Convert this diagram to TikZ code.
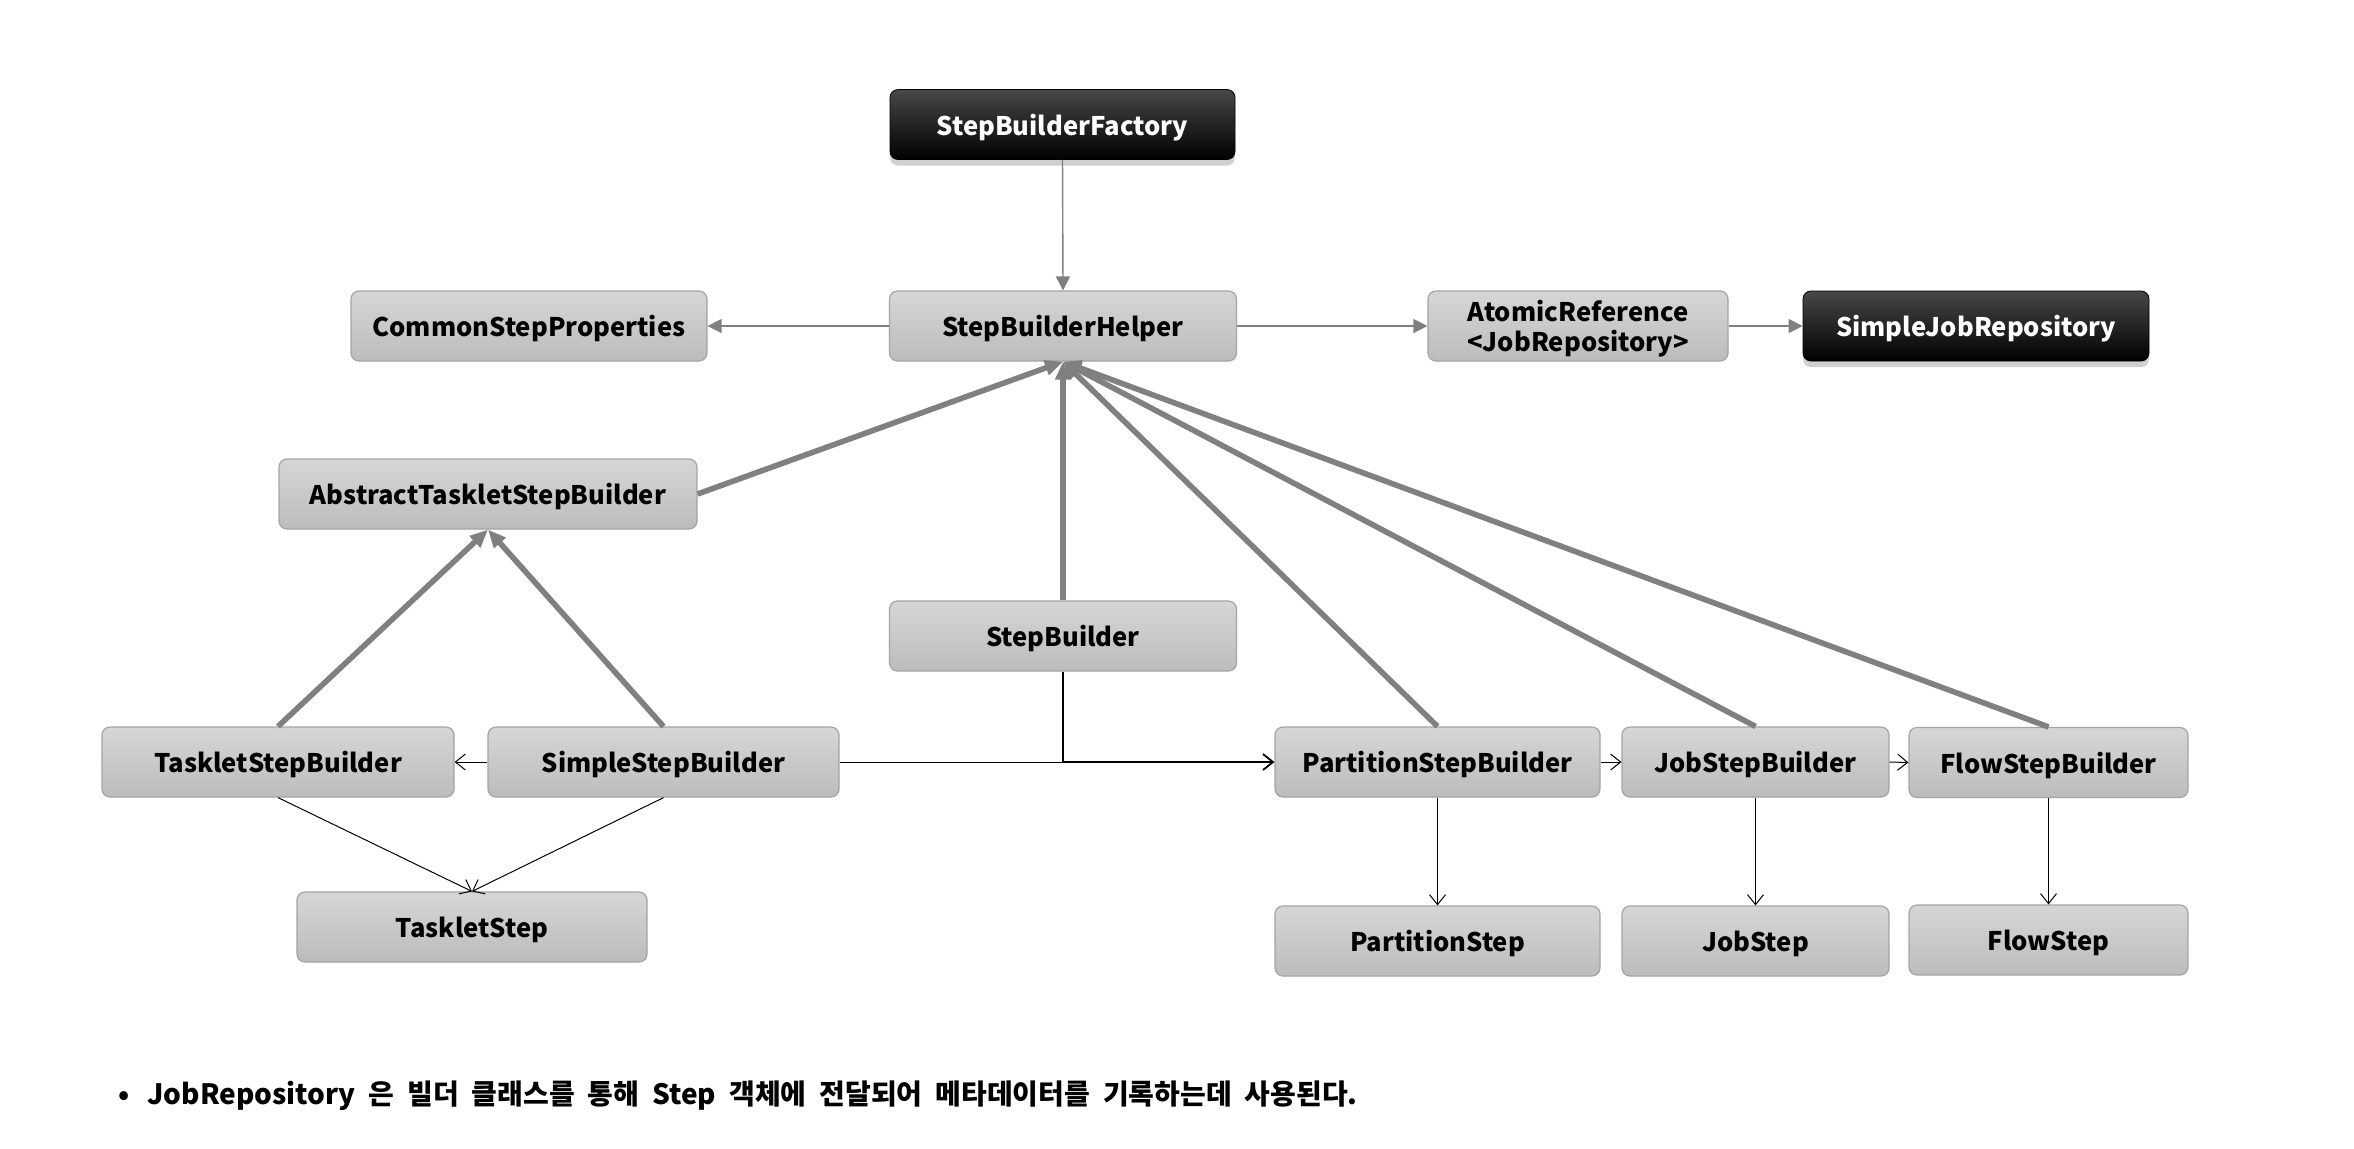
\documentclass[tikz,border=0pt]{standalone}
\usepackage{fontspec}
\setmainfont{Noto Sans CJK KR}
\usetikzlibrary{arrows.meta,shadows}
\definecolor{boxtop}{HTML}{D6D6D6}
\definecolor{boxbot}{HTML}{BCBCBC}
\definecolor{boxline}{HTML}{A4A4A4}
\definecolor{arrgrey}{HTML}{808080}
\tikzset{
  lbl/.style={font=\bfseries\fontsize{12.8pt}{16pt}\selectfont},
  gbase/.style={lbl, draw=boxline, line width=0.6pt, rounded corners=4pt,
    top color=boxtop, bottom color=boxbot, minimum height=35pt, inner sep=0pt, text=black},
  gbox/.style={gbase, text height=12pt, text depth=1.5pt},
  bbox/.style={lbl, draw=black, rounded corners=4pt, top color=black!72, bottom color=black,
    minimum height=35pt, inner sep=0pt, text=white, text height=12pt, text depth=1.5pt,
    drop shadow={shadow xshift=0pt, shadow yshift=-3pt, opacity=0.3, fill=black!60}},
  greyarr/.style={draw=arrgrey, line width=0.7pt, -{Triangle[length=7pt,width=7pt]}, arrgrey},
  thickarr/.style={draw=arrgrey, line width=2.8pt, -{Triangle[length=9pt,width=7.5pt]}, arrgrey},
  openarr/.style={draw=black, line width=0.5pt, -{Straight Barb[length=5pt,width=8pt]}},
}
\begin{document}
\begin{tikzpicture}[x=0.5pt,y=-0.5pt]
\path[use as bounding box, fill=white] (0,0) rectangle (2354,1148);
% top row
\node[bbox, minimum width=172.5pt] (sbf) at (1062.5,124.5) {StepBuilderFactory};
\node[gbox, minimum width=173.5pt] (sbh) at (1063,326) {StepBuilderHelper};
\node[gbox, minimum width=178pt] (csp) at (529,326) {CommonStepProperties};
\node[gbase, minimum width=150pt] (ar) at (1578,326) {};
\node[lbl, align=center, inner sep=0pt] (artext) at ([yshift=-1.5pt]ar.center) {AtomicReference\\[-1pt]<JobRepository>};
\node[bbox, minimum width=173pt] (sjr) at (1976,326) {SimpleJobRepository};
% middle
\node[gbox, minimum width=209pt] (atsb) at (488,494) {AbstractTaskletStepBuilder};
\node[gbox, minimum width=173.5pt] (sb) at (1063,636) {StepBuilder};
% builders row
\node[gbox, minimum width=176pt] (tsb) at (278,762) {TaskletStepBuilder};
\node[gbox, minimum width=175.5pt] (ssb) at (663.5,762) {SimpleStepBuilder};
\node[gbox, minimum width=162.5pt] (psb) at (1437.5,762) {PartitionStepBuilder};
\node[gbox, minimum width=133.5pt] (jsb) at (1755.5,762) {JobStepBuilder};
\node[gbox, minimum width=139.5pt] (fsb) at (2048.5,762.5) {FlowStepBuilder};
% steps row
\node[gbox, minimum width=175pt] (ts) at (472,927) {TaskletStep};
\node[gbox, minimum width=162.5pt] (ps) at (1437.5,941) {PartitionStep};
\node[gbox, minimum width=133.5pt] (js) at (1755.5,941) {JobStep};
\node[gbox, minimum width=139.5pt] (fs) at (2048.5,940) {FlowStep};
% grey thin arrows
\draw[greyarr] (sbf.south) -- (sbh.north);
\draw[greyarr] (sbh.west) -- (csp.east);
\draw[greyarr] (sbh.east) -- (ar.west);
\draw[greyarr] (ar.east) -- (sjr.west);
% thick inheritance arrows
\draw[thickarr] (atsb.east) -- (sbh.south);
\draw[thickarr] (sb.north) -- (sbh.south);
\draw[thickarr] (psb.north) -- (sbh.south);
\draw[thickarr] (jsb.north) -- (sbh.south);
\draw[thickarr] (fsb.north) -- (sbh.south);
\draw[thickarr] (tsb.north) -- (atsb.south);
\draw[thickarr] (ssb.north) -- (atsb.south);
% black open arrows
\draw[openarr] (ssb.west) -- (tsb.east);
\draw[openarr] (tsb.south) -- (ts.north);
\draw[openarr] (ssb.south) -- (ts.north);
\draw[black, line width=0.5pt] (ssb.east) -- (ssb.east -| sb.south);
\draw[openarr, line width=0.9pt] (sb.south) |- (psb.west);
\draw[openarr] (psb.east) -- (jsb.west);
\draw[openarr] (jsb.east) -- (fsb.west);
\draw[openarr] (psb.south) -- (ps.north);
\draw[openarr] (jsb.south) -- (js.north);
\draw[openarr] (fsb.south) -- (fs.north);
% note
\node[anchor=west, inner sep=0pt, font=\bfseries\fontsize{14pt}{17pt}\selectfont] (note) at (118,1096) {\spaceskip=6.5pt•\hspace{9pt}JobRepository 은 빌더 클래스를 통해 Step 객체에 전달되어 메타데이터를 기록하는데 사용된다.};
\end{tikzpicture}
\end{document}
